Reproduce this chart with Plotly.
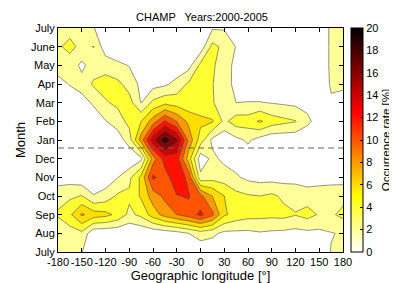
import plotly.graph_objects as go

# ---- data ----
longitudes = [-180, -165, -150, -135, -120, -105, -90, -75, -60, -45, -30, -15, 0,
              15, 30, 45, 60, 75, 90, 105, 120, 135, 150, 165, 180]
lon_ticks = [-180, -150, -120, -90, -60, -30, 0, 30, 60, 90, 120, 150, 180]
lon_tick_labels = ["-180", "-150", "-120", "-90", "-60", "-30", "0", "30", "60",
                   "90", "120", "150", "180"]
month_pos = [0, 1, 2, 3, 4, 5, 6, 7, 8, 9, 10, 11, 12]
month_labels = ["July", "Aug", "Sep", "Oct", "Nov", "Dec", "Jan", "Feb", "Mar",
                "Apr", "May", "June", "July"]

occ_jul_start = [2.5, 2.4, 2.1, 0.3, 0.3, 0.3, 0.3, 0.3, 0.3, 0.3, 0.3, 0.3, 0.5, 0.5, 0.3, 0.3, 0.3, 0.3, 0.3, 0.3, 0.3, 0.3, 0.5, 2.1, 2.5]
occ_aug = [1.95, 3.0, 3.5, 0.5, 0.4, 0.4, 0.2, 0.3, 0.5, 0.8, 1.2, 2.0, 3.0, 2.5, 1.5, 1.5, 1.5, 1.8, 1.6, 1.5, 1.3, 1.5, 1.5, 1.9, 2.2]
occ_sep = [4.3, 5.6, 8.3, 7.0, 6.6, 5.5, 3.5, 4.5, 7.0, 8.8, 10.0, 11.0, 12.5, 10.5, 6.3, 5.2, 4.7, 4.6, 4.5, 4.6, 4.1, 4.7, 3.8, 3.7, 4.5]
occ_oct = [3.2, 3.6, 4.1, 2.1, 2.8, 4.3, 4.4, 6.3, 9.0, 10.5, 11.9, 12.2, 10.5, 8.0, 6.0, 4.6, 4.2, 4.0, 4.4, 3.6, 3.4, 3.1, 3.2, 3.3, 3.4]
occ_nov = [1.0, 1.0, 0.5, 0.8, 0.8, 1.9, 3.5, 6.5, 12.4, 11.0, 13.5, 11.4, 2.5, 3.2, 3.0, 2.3, 1.5, 1.2, 1.2, 1.2, 1.2, 0.8, 1.0, 1.1, 1.1]
occ_dec = [0.3, 0.3, 0.3, 0.3, 0.3, 0.4, 0.3, 1.5, 9.0, 13.0, 13.0, 7.0, 0.8, 2.5, 1.5, 1.0, 1.0, 0.5, 0.3, 0.3, 0.3, 0.3, 0.3, 0.3, 0.3]
occ_jan = [0.3, 0.3, 0.3, 0.3, 0.5, 0.8, 3.0, 9.0, 15.5, 19.6, 16.5, 9.5, 5.0, 1.5, 0.5, 1.5, 2.3, 1.2, 0.5, 0.5, 0.5, 0.3, 0.3, 0.3, 0.3]
occ_feb = [0.5, 0.5, 0.6, 0.8, 1.9, 3.0, 4.6, 6.0, 9.0, 12.2, 10.0, 7.5, 6.5, 6.2, 3.5, 5.0, 5.0, 6.3, 5.0, 4.5, 4.1, 2.5, 1.0, 0.5, 0.5]
occ_mar = [1.0, 1.0, 1.2, 2.3, 3.8, 4.4, 4.8, 1.9, 4.5, 5.5, 5.0, 4.6, 4.8, 4.2, 2.7, 2.0, 2.1, 2.1, 1.9, 1.7, 1.5, 1.3, 0.8, 1.8, 1.6]
occ_apr = [1.4, 2.1, 2.8, 4.3, 4.8, 4.5, 3.2, 1.5, 1.2, 1.6, 2.8, 4.3, 5.0, 4.1, 2.6, 1.6, 0.3, 0.2, 0.2, 0.2, 0.2, 0.3, 0.8, 2.2, 2.2]
occ_may = [2.8, 3.3, 1.5, 3.0, 3.2, 2.5, 1.9, 0.3, 0.2, 0.2, 0.3, 1.2, 4.5, 4.3, 3.0, 1.4, 0.3, 0.2, 0.2, 0.2, 0.2, 0.2, 0.8, 2.3, 2.5]
occ_jun = [3.8, 4.4, 3.6, 4.05, 0.8, 0.3, 0.2, 0.2, 0.2, 0.2, 0.2, 0.5, 0.7, 4.6, 3.5, 1.9, 0.2, 0.2, 0.2, 0.2, 0.2, 0.3, 0.8, 2.3, 2.5]
occ_jul_end = [3.0, 3.5, 3.0, 2.1, 0.8, 0.3, 0.3, 0.3, 0.3, 0.3, 0.3, 0.3, 0.8, 1.8, 1.8, 0.8, 0.2, 0.2, 0.2, 0.2, 0.2, 0.3, 0.8, 2.3, 2.5]

solstice_pos = 5.57
cbar_ticks = [0, 2, 4, 6, 8, 10, 12, 14, 16, 18, 20]

z = [occ_jul_start, occ_aug, occ_sep, occ_oct, occ_nov, occ_dec, occ_jan,
     occ_feb, occ_mar, occ_apr, occ_may, occ_jun, occ_jul_end]


# ---- flipped MATLAB 'hot' colormap ----
def hot_flip(v, vmax=20.0):
    t = 1.0 - v / vmax
    r = min(1.0, max(0.0, t / 0.375))
    g = min(1.0, max(0.0, (t - 0.375) / 0.375))
    b = min(1.0, max(0.0, (t - 0.75) / 0.25))
    return "rgb(%d,%d,%d)" % (round(r * 255), round(g * 255), round(b * 255))


# band colours: background (<2) = colour at 0, band [L, L+2) = colour at L
n_bands = 9
fill_scale = [[0.0, hot_flip(0)]]
for j in range(1, n_bands + 1):
    fill_scale.append([j / n_bands, hot_flip(2 * j)])

cont_scale = [[i / 40, hot_flip(20 * i / 40)] for i in range(41)]

font_family = "Liberation Sans, Arial, Helvetica, sans-serif"

fig = go.Figure()
fig.add_trace(go.Contour(
    x=longitudes, y=month_pos, z=z,
    colorscale=fill_scale, showscale=False,
    contours=dict(start=2, end=18, size=2, coloring="fill"),
    line=dict(color="rgb(70,70,70)", width=0.6, smoothing=0),
    hoverinfo="skip",
))

# continuous colorbar
fig.add_trace(go.Scatter(
    x=[0, 0], y=[-50, -50], mode="markers",
    marker=dict(color=[0, 20], cmin=0, cmax=20, colorscale=cont_scale, opacity=0,
                showscale=True,
                colorbar=dict(
                    x=(353 - 43) / 302, xanchor="left", xpad=0, ypad=0,
                    y=0.5, yanchor="middle", len=1, lenmode="fraction",
                    thickness=12, outlinewidth=1, outlinecolor="black",
                    tickvals=cbar_ticks, ticks="inside", ticklen=3,
                    tickcolor="black", tickfont=dict(size=11, color="black"),
                    title=dict(text="Occurrence rate [%]", side="right",
                               font=dict(size=11.5, color="black")),
                )),
    hoverinfo="skip", showlegend=False,
))

fig.add_shape(type="line", xref="x", yref="y", x0=-180, x1=180,
              y0=solstice_pos, y1=solstice_pos,
              line=dict(color="rgb(100,100,100)", width=1, dash="6px,4px"))

fig.update_layout(
    width=397, height=283,
    margin=dict(l=43, r=52, t=20, b=30),
    paper_bgcolor="white", plot_bgcolor="white",
    font=dict(family=font_family, size=11, color="black"),
    title=dict(text="CHAMP   Years:2000-2005", x=(43 + 151) / 397, xanchor="center",
               y=1 - 9 / 283, yanchor="middle", font=dict(size=11)),
    showlegend=False,
    xaxis=dict(range=[-180, 180], tickvals=lon_ticks, ticktext=lon_tick_labels,
               tickangle=0,
               ticks="inside", ticklen=4, tickcolor="black",
               showline=True, linecolor="black", linewidth=1, mirror="ticks",
               showgrid=False, zeroline=False,
               title=dict(text="Geographic longitude [°]", standoff=2)),
    yaxis=dict(range=[0, 12], tickvals=month_pos, ticktext=month_labels,
               ticks="inside", ticklen=4, tickcolor="black",
               showline=True, linecolor="black", linewidth=1, mirror="ticks",
               showgrid=False, zeroline=False,
               title=dict(text="Month", standoff=2)),
)

fig.write_html("out.html", config={"displayModeBar": False})
